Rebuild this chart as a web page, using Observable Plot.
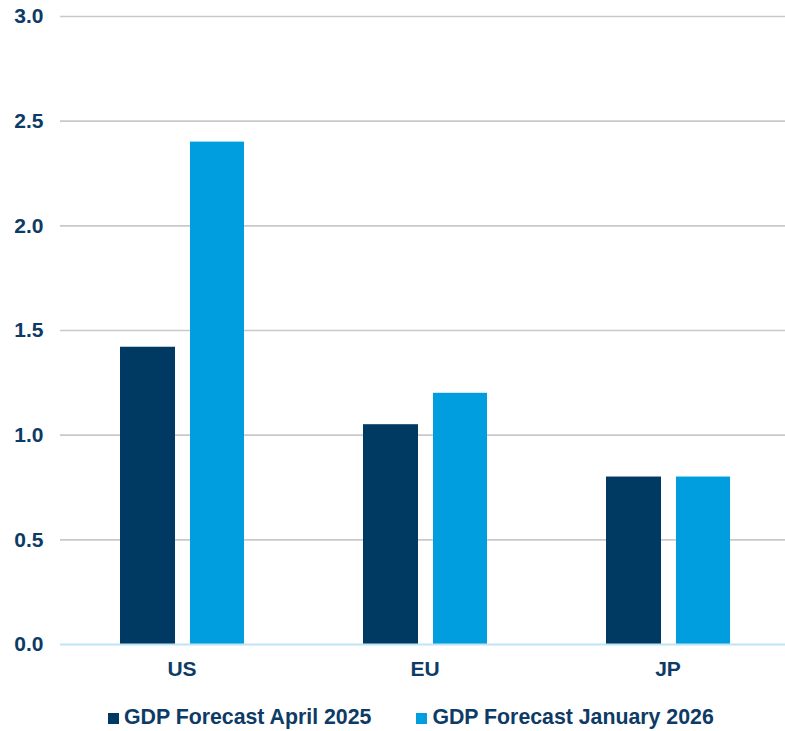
<!DOCTYPE html>
<html>
<head>
<meta charset="utf-8">
<script src="https://cdn.jsdelivr.net/npm/d3@7"></script>
<script src="https://cdn.jsdelivr.net/npm/@observablehq/plot@0.6"></script>
<style>
  html, body { margin: 0; padding: 0; background: #fff; }
  body { width: 785px; height: 731px; position: relative; overflow: hidden; font-family: "Liberation Sans", Arial, sans-serif; }
  #legend { position: absolute; left: 108px; top: 704px; display: flex; align-items: center; gap: 45px; font-weight: bold; font-size: 21.3px; color: #0d3b66; line-height: 27px; }
  .item { display: flex; align-items: center; }
  .sw { width: 11px; height: 11px; margin-right: 5px; margin-top: 1px; }
</style>
</head>
<body>
<div id="chart"></div>
<div id="legend"></div>
<script>
const countries = ["US", "EU", "JP"];
const seriesNames = ["GDP Forecast April 2025", "GDP Forecast January 2026"];
const april2025 = [1.42, 1.05, 0.8];
const january2026 = [2.4, 1.2, 0.8];
const yTicks = [0, 0.5, 1.0, 1.5, 2.0, 2.5, 3.0];
const seriesColors = ["#003a63", "#009ddf"];

const aprilData = countries.map((c, i) => ({country: c, series: seriesNames[0], value: april2025[i]}));
const janData = countries.map((c, i) => ({country: c, series: seriesNames[1], value: january2026[i]}));

const chart = Plot.plot({
  width: 785,
  height: 690,
  marginLeft: 60,
  marginRight: 0,
  marginTop: 16,
  marginBottom: 46,
  style: {fontFamily: "'Liberation Sans', Arial, sans-serif", color: "#0d3b66", background: "#fff"},
  x: {type: "band", domain: countries, range: [60, 789], padding: 0},
  y: {domain: [0, 3]},
  color: {domain: seriesNames, range: seriesColors},
  marks: [
    Plot.ruleY(yTicks.filter(d => d > 0), {stroke: "#c9c9c9", strokeWidth: 1.6}),
    Plot.barY(aprilData, {x: "country", y: "value", fill: "series", insetLeft: 60, insetRight: 128}),
    Plot.barY(janData, {x: "country", y: "value", fill: "series", insetLeft: 130, insetRight: 59}),
    Plot.ruleY([0], {stroke: "#bfe3f7", strokeWidth: 2}),
    Plot.axisY({ticks: yTicks, tickFormat: d3.format(".1f"), tickSize: 0, tickPadding: 17, fontSize: 21, fontWeight: "bold", label: null}),
    Plot.axisX({tickSize: 0, tickPadding: 17, fontSize: 21, fontWeight: "bold", label: null})
  ]
});
document.getElementById("chart").appendChild(chart);

const legend = document.getElementById("legend");
seriesNames.forEach((name, i) => {
  const item = document.createElement("div");
  item.className = "item";
  const sw = document.createElement("span");
  sw.className = "sw";
  sw.style.background = seriesColors[i];
  const t = document.createElement("span");
  t.textContent = name;
  item.appendChild(sw);
  item.appendChild(t);
  legend.appendChild(item);
});
</script>
</body>
</html>
